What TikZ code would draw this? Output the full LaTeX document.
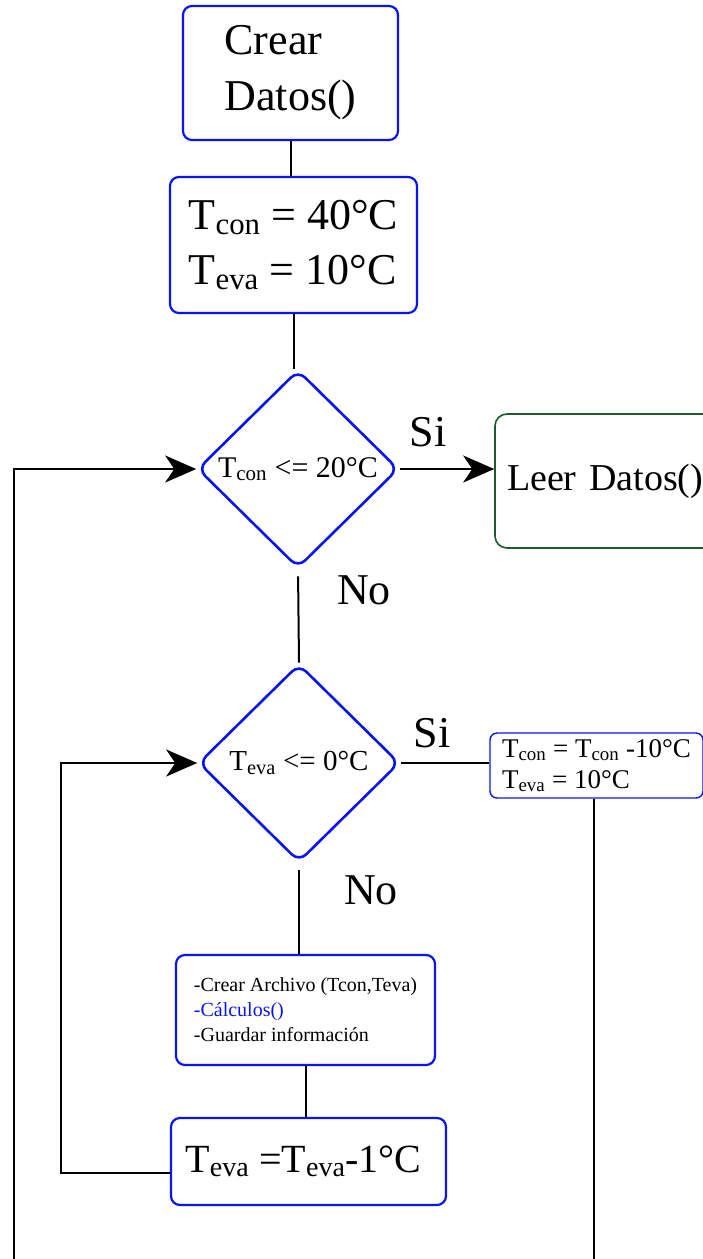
\documentclass[tikz,border=0pt]{standalone}
\usepackage{fontspec}
\setmainfont{Liberation Serif}
\usetikzlibrary{positioning, arrows.meta, shapes.geometric}
\definecolor{mBlue}{HTML}{0A14F0}
\definecolor{mGreen}{HTML}{1E5A2D}
\newcommand{\Tsub}[1]{T\textsubscript{#1}}
\newcommand{\fsz}[2]{\fontsize{#1}{#2}\selectfont}

\begin{document}
\begin{tikzpicture}[x=1pt, y=-1pt,
  blk/.style={draw=mBlue, line width=2.2pt, rounded corners=9pt, align=left, inner sep=0pt},
  dec/.style={diamond, draw=mBlue, line width=2.6pt, rounded corners=10pt, inner sep=0pt,
              minimum width=201pt, minimum height=198pt},
  lbl/.style={font=\fsz{44}{44}, inner sep=0pt},
  lnk/.style={draw=black, line width=2pt},
  arr/.style={lnk, -{Stealth[length=31pt, width=27pt, inset=9pt]}},
]
  \useasboundingbox (0,0) rectangle (703,1259);

  \node[blk, minimum width=215pt, minimum height=134pt, font=\fsz{44}{56}] (crear) at (290.5,73) {
    Crear\\Datos()
  };
  \node[blk, minimum width=247pt, minimum height=136pt, font=\fsz{44}{55}] (init) at (293.5,245) {
    \Tsub{con} = 40°C\\
    \Tsub{eva} = 10°C
  };
  \node[dec, font=\fsz{30}{30}] (dec1) at (298,469) {\Tsub{con} <= 20°C};
  \node[draw=mGreen, line width=1.6pt, rounded corners=12pt, minimum width=230pt,
        minimum height=134pt, text width=206pt, align=left, inner sep=0pt,
        font=\fsz{38}{38}] (leer) at (610,481) {Leer Datos()};
  \node[dec, font=\fsz{29}{29}] (dec2) at (299,763) {\Tsub{eva} <= 0°C};
  \node[blk, line width=1.4pt, rounded corners=7pt, minimum width=213pt, minimum height=65pt,
        font=\fsz{27}{31}] (upd) at (596.5,765.5) {
    \Tsub{con} = \Tsub{con} -10°C\\
    \Tsub{eva} = 10°C
  };
  \node[blk, minimum width=259pt, minimum height=110pt, font=\fsz{20}{25}] (proc) at (305.5,1010) {
    -Crear Archivo (Tcon,Teva)\\
    {\color{mBlue}-Cálculos()}\\
    -Guardar información
  };
  \node[blk, minimum width=275pt, minimum height=87pt, font=\fsz{40}{40}] (dec) at (308.5,1161.5) {
    \Tsub{eva} =\Tsub{eva}-1°C
  };

  % labels
  \node[lbl] (si1) at (428,432) {Si};
  \node[lbl] (no1) at (364,590) {No};
  \node[lbl] (si2) at (432,733) {Si};
  \node[lbl] (no2) at (371,890) {No};

  \coordinate (in1) at (14,1259);
  \coordinate (out1) at (594,1259);

  \draw[lnk] (crear.south) -- (crear.south |- init.north);
  \draw[lnk] (init.south) -- (init.south |- dec1.north);
  \draw[arr] (dec1.east) -- (dec1.east -| leer.west);
  \draw[lnk, shorten <=7pt] (dec1.south) -- (dec2.north);
  \draw[lnk] (dec2.east) -- (dec2.east -| upd.west);
  \draw[lnk] (upd.south -| out1) -- (out1);
  \draw[lnk, shorten <=7pt] (dec2.south) -- (dec2.south |- proc.north);
  \draw[lnk] (proc.south) -- (proc.south |- dec.north);
  \draw[arr] ([yshift=-11pt]dec.west) -- ++(-109,0) |- (dec2.west);
  \draw[arr] (in1) |- (dec1.west);
\end{tikzpicture}
\end{document}
